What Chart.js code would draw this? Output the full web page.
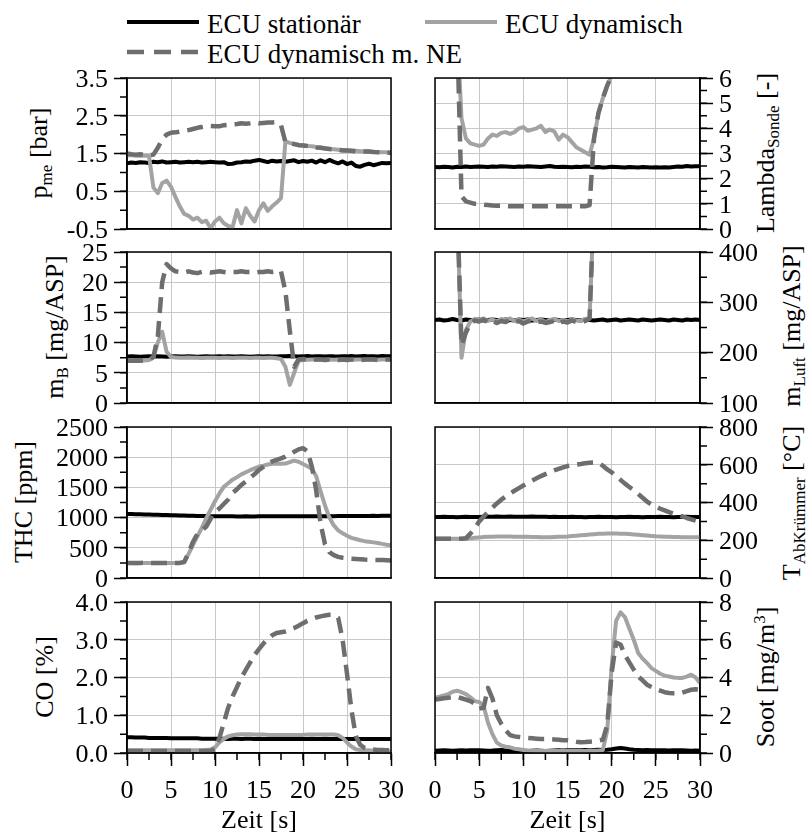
<!DOCTYPE html>
<html lang="de">
<head>
<meta charset="utf-8">
<title>ECU Vergleich</title>
<script src="https://cdn.jsdelivr.net/npm/chart.js@4.4.1/dist/chart.umd.min.js"></script>
<style>
  html, body { margin: 0; padding: 0; background: #fff; font-family: "Liberation Serif", serif; }
  #figure {
    position: relative; width: 806px; height: 837px; overflow: hidden;
    font-family: "Liberation Serif", serif; color: #000;
  }
  #figure canvas { position: absolute; }
  .ytitle {
    position: absolute; white-space: nowrap; font-family: "Liberation Serif", serif;
    font-size: 26px; line-height: 1;
    transform: translate(-50%, -50%) rotate(-90deg);
  }
  .ytitle sub { font-size: 17px; line-height: 0; vertical-align: -5px; }
  .ytitle sup { font-size: 17px; line-height: 0; vertical-align: 9px; }
  .legend-sample { position: absolute; }
  .legend-text {
    position: absolute; white-space: nowrap; font-family: "Liberation Serif", serif;
    font-size: 27px; line-height: 1;
  }
</style>
</head>
<body>
<div id="figure">
  <svg class="legend-sample" style="left:127px;top:17px" width="72" height="10"><line x1="0" y1="5" x2="72" y2="5" stroke="#000000" stroke-width="4"/></svg>
  <span class="legend-text" style="left:207px;top:11px">ECU stationär</span>
  <svg class="legend-sample" style="left:425px;top:17px" width="72" height="10"><line x1="0" y1="5" x2="72" y2="5" stroke="#a3a3a3" stroke-width="4"/></svg>
  <span class="legend-text" style="left:505px;top:11px">ECU dynamisch</span>
  <svg class="legend-sample" style="left:127px;top:47px" width="72" height="10"><line x1="0" y1="5" x2="72" y2="5" stroke="#6e6e6e" stroke-width="4.5" stroke-dasharray="17 10"/></svg>
  <span class="legend-text" style="left:207px;top:41px">ECU dynamisch m. NE</span>

  <div class="ytitle" style="left:39px;top:153px">p<sub>me</sub> [bar]</div>
  <div class="ytitle" style="left:55px;top:327px">m<sub>B</sub> [mg/ASP]</div>
  <div class="ytitle" style="left:24px;top:502px">THC [ppm]</div>
  <div class="ytitle" style="left:45px;top:677px">CO [%]</div>
  <div class="ytitle" style="left:766px;top:153px">Lambda<sub>Sonde</sub> [-]</div>
  <div class="ytitle" style="left:792px;top:326px">m<sub>Luft</sub> [mg/ASP]</div>
  <div class="ytitle" style="left:792px;top:503px">T<sub>AbKrümmer</sub> [°C]</div>
  <div class="ytitle" style="left:766px;top:677px">Soot [mg/m<sup>3</sup>]</div>
</div>

<script>
// Zeitachse [s]
const zeit = [0,0.5,1,1.5,2,2.5,3,3.5,4,4.5,5,5.5,6,6.5,7,7.5,8,8.5,9,9.5,
  10,10.5,11,11.5,12,12.5,13,13.5,14,14.5,15,15.5,16,16.5,17,17.5,18,18.5,19,19.5,
  20,20.5,21,21.5,22,22.5,23,23.5,24,24.5,25,25.5,26,26.5,27,27.5,28,28.5,29,29.5,30];

// p_me [bar]
const pmeStat = [1.24,1.26,1.25,1.27,1.26,1.25,1.28,1.27,1.29,1.26,
  1.27,1.28,1.26,1.27,1.28,1.27,1.28,1.26,1.27,1.28,
  1.27,1.26,1.27,1.22,1.23,1.26,1.27,1.29,1.28,1.31,
  1.33,1.30,1.27,1.31,1.29,1.30,1.28,1.30,1.32,1.27,
  1.30,1.28,1.31,1.26,1.32,1.27,1.33,1.28,1.24,1.29,
  1.22,1.26,1.17,1.15,1.20,1.23,1.19,1.22,1.25,1.24,
  1.25];
const pmeDyn = [1.45,1.46,1.44,1.45,1.44,1.44,0.60,0.45,0.72,0.78,
  0.62,0.35,0.10,-0.10,-0.15,-0.25,-0.20,-0.32,-0.28,-0.48,
  -0.30,-0.20,-0.35,-0.42,-0.45,0.00,-0.35,0.05,-0.15,-0.30,
  0.00,0.18,-0.02,0.10,0.20,0.32,1.82,1.78,1.75,1.73,
  1.72,1.70,1.69,1.67,1.66,1.64,1.62,1.61,1.60,1.59,
  1.58,1.57,1.57,1.56,1.56,1.55,1.54,1.54,1.53,1.53,
  1.52];
const pmeNE = [1.50,1.48,1.47,1.48,1.46,1.45,1.47,1.65,1.88,2.00,
  2.05,2.06,2.08,2.10,2.12,2.15,2.18,2.20,2.22,2.23,
  2.22,2.22,2.25,2.26,2.27,2.28,2.30,2.29,2.30,2.32,
  2.30,2.31,2.32,2.32,2.33,2.25,1.80,1.77,1.75,1.72,
  1.71,1.70,1.68,1.66,1.65,1.63,1.62,1.61,1.60,1.58,
  1.58,1.57,1.56,1.56,1.55,1.55,1.54,1.53,1.53,1.52,
  1.52];

// Lambda Sonde [-] (Werte > 6 liegen oberhalb der Achse)
const lamStat = [2.46,2.45,2.47,2.46,2.44,2.47,2.46,2.48,2.46,2.47,
  2.48,2.47,2.46,2.48,2.47,2.49,2.48,2.47,2.46,2.48,
  2.47,2.49,2.48,2.47,2.46,2.48,2.50,2.47,2.46,2.47,
  2.46,2.45,2.47,2.46,2.48,2.47,2.45,2.46,2.44,2.45,
  2.47,2.46,2.45,2.44,2.46,2.45,2.44,2.46,2.45,2.44,
  2.45,2.44,2.45,2.44,2.46,2.48,2.47,2.50,2.48,2.49,
  2.49];
const lamDyn = [8,8,8,8,8,8,4.40,3.60,3.40,3.35,
  3.30,3.35,3.60,3.75,3.70,3.82,3.85,3.78,3.85,4.00,
  4.05,3.90,3.95,4.00,4.10,3.85,3.95,3.88,3.55,3.75,
  3.65,3.45,3.25,3.15,3.05,2.95,3.60,4.60,5.20,5.70,
  6.10,8,8,8,8,8,8,8,8,8,
  8,8,8,8,8,8,8,8,8,8,
  8];
const lamNE = [8,8,8,8,8,8,1.30,1.10,1.05,1.00,
  1.00,0.97,0.95,0.93,0.92,0.92,0.91,0.90,0.90,0.90,
  0.90,0.90,0.90,0.90,0.90,0.90,0.90,0.90,0.90,0.90,
  0.90,0.90,0.90,0.90,0.90,0.95,3.60,4.60,5.20,5.70,
  6.10,8,8,8,8,8,8,8,8,8,
  8,8,8,8,8,8,8,8,8,8,
  8];

// m_B [mg/ASP]
const mbStat = [7.70,7.75,7.70,7.65,7.70,7.75,7.70,7.75,7.70,7.65,
  7.70,7.72,7.68,7.70,7.74,7.70,7.66,7.70,7.72,7.70,
  7.68,7.72,7.70,7.74,7.70,7.68,7.72,7.70,7.66,7.70,
  7.72,7.70,7.74,7.70,7.68,7.72,7.75,7.80,7.75,7.70,
  7.72,7.78,7.70,7.75,7.72,7.70,7.76,7.72,7.70,7.75,
  7.72,7.78,7.70,7.75,7.80,7.72,7.76,7.70,7.78,7.74,
  7.75];
const mbDyn = [7.00,7.00,7.00,7.05,7.05,7.10,7.60,10.0,11.8,8.50,
  7.60,7.55,7.50,7.50,7.55,7.50,7.50,7.45,7.50,7.50,
  7.50,7.45,7.50,7.50,7.45,7.50,7.50,7.50,7.45,7.50,
  7.50,7.45,7.50,7.50,7.40,7.30,6.00,3.00,5.00,7.00,
  7.10,7.15,7.20,7.20,7.15,7.20,7.20,7.15,7.20,7.20,
  7.20,7.15,7.20,7.20,7.15,7.20,7.20,7.15,7.20,7.20,
  7.20];
const mbNE = [7.00,7.00,7.05,7.00,7.05,7.10,7.60,11.0,20.0,23.0,
  22.3,21.8,21.7,21.6,21.8,21.6,21.5,21.7,21.7,21.6,
  21.7,21.8,21.7,21.6,21.7,21.7,21.8,21.7,21.7,21.6,
  21.7,21.7,21.8,21.7,21.8,21.8,18.5,12.0,6.00,7.20,
  7.30,7.20,7.10,7.20,7.20,7.10,7.20,7.20,7.10,7.20,
  7.10,7.20,7.20,7.10,7.20,7.20,7.20,7.10,7.20,7.20,
  7.20];

// m_Luft [mg/ASP] (Werte > 400 liegen oberhalb der Achse)
const mlStat = [265,266,264,265,267,265,264,266,265,265,
  266,264,265,266,265,264,266,265,264,266,
  265,266,264,265,266,265,264,266,265,264,
  265,266,265,264,266,265,264,265,266,264,
  265,266,264,265,266,265,264,266,265,264,
  265,266,265,264,266,265,264,266,265,266,
  265];
const mlDyn = [500,500,500,500,500,500,190,245,262,267,
  265,268,263,266,262,267,264,268,263,266,
  262,265,268,263,266,261,265,267,263,265,
  262,266,264,263,267,268,500,500,500,500,
  500,500,500,500,500,500,500,500,500,500,
  500,500,500,500,500,500,500,500,500,500,
  500];
const mlNE = [500,500,500,500,500,500,215,240,258,264,
  262,266,260,264,259,263,261,265,260,263,
  258,262,264,260,262,259,261,263,258,262,
  260,264,261,260,263,268,500,500,500,500,
  500,500,500,500,500,500,500,500,500,500,
  500,500,500,500,500,500,500,500,500,500,
  500];

// THC [ppm]
const thcStat = [1060,1058,1056,1054,1052,1050,1048,1046,1044,1042,
  1040,1038,1036,1034,1032,1030,1028,1026,1025,1024,
  1023,1022,1022,1021,1021,1020,1020,1021,1020,1020,
  1021,1021,1022,1021,1022,1022,1021,1022,1023,1022,
  1023,1022,1023,1024,1023,1024,1025,1024,1025,1026,
  1025,1026,1027,1026,1027,1028,1029,1028,1030,1031,
  1032];
const thcDyn = [250,250,245,250,250,248,250,250,248,250,
  250,250,250,265,400,550,690,830,990,1130,
  1270,1400,1510,1570,1628,1670,1715,1750,1785,1815,
  1845,1860,1880,1893,1895,1893,1895,1920,1943,1925,
  1887,1850,1810,1683,1435,1200,1000,870,790,740,
  700,665,645,625,610,600,590,580,565,552,
  541];
const thcNE = [250,250,248,250,252,250,248,250,250,248,
  250,250,250,265,420,600,730,790,850,980,
  1090,1150,1225,1300,1407,1470,1540,1600,1660,1720,
  1790,1840,1890,1930,1955,1980,2010,2050,2090,2130,
  2150,2100,1850,1450,900,560,430,380,350,335,
  325,320,315,310,305,302,300,298,296,295,
  290];

// T AbKrümmer [°C]
const tkStat = [323,323,324,323,323,322,323,324,323,323,
  323,324,325,324,326,325,324,326,325,324,
  325,324,326,324,325,324,323,324,323,323,
  323,324,323,323,322,323,323,324,323,323,
  323,322,323,323,324,323,323,322,323,323,
  323,324,323,323,322,323,323,324,323,323,
  323];
const tkDyn = [208,208,208,208,208,208,208,208,210,213,
  215,217,218,219,220,220,220,220,219,219,
  218,218,217,217,216,216,216,217,218,219,
  220,222,224,226,228,230,232,234,235,236,
  236,236,235,234,233,231,229,227,225,223,
  221,220,219,218,217,217,216,216,216,216,
  216];
const tkNE = [208,208,208,208,208,208,208,210,235,262,
  300,325,350,372,395,415,432,448,462,476,
  490,503,516,528,540,550,560,570,578,586,
  593,597,601,604,608,611,612,609,595,575,
  560,540,520,500,482,464,445,425,405,390,
  378,367,358,349,341,334,326,318,311,304,
  297];

// CO [%]
const coStat = [0.42,0.42,0.41,0.41,0.41,0.40,0.40,0.40,0.40,0.40,
  0.39,0.39,0.39,0.39,0.39,0.39,0.39,0.38,0.38,0.38,
  0.38,0.38,0.38,0.37,0.38,0.38,0.37,0.38,0.38,0.37,
  0.38,0.37,0.37,0.38,0.37,0.37,0.38,0.37,0.37,0.38,
  0.37,0.37,0.38,0.37,0.37,0.38,0.37,0.37,0.37,0.37,
  0.37,0.37,0.37,0.37,0.37,0.37,0.37,0.37,0.37,0.37,
  0.37];
const coDyn = [0.07,0.07,0.07,0.07,0.07,0.07,0.07,0.07,0.07,0.07,
  0.07,0.07,0.07,0.07,0.07,0.07,0.07,0.07,0.08,0.09,
  0.15,0.28,0.38,0.44,0.47,0.49,0.50,0.50,0.50,0.49,
  0.49,0.49,0.48,0.48,0.48,0.48,0.48,0.48,0.48,0.48,
  0.48,0.49,0.49,0.49,0.49,0.49,0.49,0.49,0.47,0.40,
  0.28,0.17,0.10,0.08,0.07,0.07,0.06,0.06,0.05,0.05,
  0.04];
const coNE = [0.05,0.05,0.05,0.05,0.05,0.05,0.05,0.05,0.05,0.05,
  0.05,0.05,0.05,0.05,0.05,0.05,0.05,0.05,0.05,0.06,
  0.10,0.40,0.80,1.20,1.50,1.75,2.00,2.20,2.40,2.60,
  2.75,2.90,3.02,3.12,3.18,3.20,3.22,3.26,3.31,3.37,
  3.44,3.50,3.55,3.59,3.62,3.64,3.66,3.66,3.58,3.00,
  2.10,1.15,0.45,0.22,0.13,0.10,0.09,0.08,0.08,0.07,
  0.07];

// Soot [mg/m3]
const sootStat = [0.12,0.13,0.14,0.13,0.12,0.13,0.14,0.13,0.14,0.15,
  0.14,0.13,0.12,0.13,0.15,0.16,0.14,0.13,0.12,0.13,
  0.12,0.11,0.12,0.13,0.12,0.11,0.12,0.13,0.14,0.13,
  0.14,0.15,0.14,0.15,0.16,0.15,0.16,0.17,0.16,0.17,
  0.20,0.24,0.27,0.24,0.20,0.17,0.16,0.15,0.16,0.15,
  0.14,0.15,0.14,0.13,0.14,0.15,0.14,0.13,0.12,0.13,
  0.12];
const sootDyn = [2.92,2.98,3.05,3.12,3.25,3.30,3.22,3.12,2.95,2.75,
  2.70,2.50,1.60,1.00,0.55,0.40,0.33,0.30,0.23,0.20,
  0.16,0.13,0.12,0.11,0.10,0.10,0.10,0.10,0.10,0.10,
  0.10,0.10,0.10,0.11,0.11,0.12,0.12,0.13,0.15,1.20,
  4.60,7.00,7.45,7.20,6.60,6.00,5.30,5.00,4.77,4.50,
  4.35,4.20,4.10,4.05,4.00,3.98,3.98,4.05,4.15,4.00,
  3.71];
const sootNE = [2.83,2.86,2.90,2.93,2.96,2.97,2.90,2.83,2.75,2.62,
  2.35,2.40,3.45,2.90,2.00,1.55,1.20,0.95,0.88,0.85,
  0.82,0.80,0.78,0.76,0.74,0.74,0.73,0.72,0.70,0.68,
  0.67,0.64,0.60,0.57,0.58,0.60,0.62,0.66,0.70,1.50,
  4.24,5.85,5.75,5.20,4.80,4.42,4.05,3.85,3.62,3.50,
  3.38,3.30,3.22,3.18,3.16,3.15,3.20,3.28,3.35,3.38,
  3.36];

// Styles
const FONT = { family: 'Liberation Serif', size: 26 };
const COL_STAT = '#000000';
const COL_DYN = '#a3a3a3';
const COL_NE = '#6e6e6e';
const GRID = '#c8c8c8';

// Layout of the 4x2 panel grid
const ROW_TOP = [78, 252, 427, 602];
const PLOT_H = 151;
const PAD = 14;
const PAGE_H = 837;
const COLS = {
  left:  { canvasLeft: 0,   canvasWidth: 410, plotLeft: 127, plotRight: 391 },
  right: { canvasLeft: 400, canvasWidth: 406, plotLeft: 435, plotRight: 700 }
};
const MAJOR_LEN = 13;
const MINOR_LEN = 7;

Chart.defaults.font.family = 'Liberation Serif';

const panels = [
  { side: 'left',  row: 0, yMin: -0.5, yMax: 3.5, yStep: 1,   yMinor: 0.5, dec: 1, stat: pmeStat,  dyn: pmeDyn,  ne: pmeNE },
  { side: 'right', row: 0, yMin: 0,    yMax: 6,   yStep: 1,   yMinor: 0.5, dec: 0, stat: lamStat,  dyn: lamDyn,  ne: lamNE },
  { side: 'left',  row: 1, yMin: 0,    yMax: 25,  yStep: 5,   yMinor: 2.5, dec: 0, stat: mbStat,   dyn: mbDyn,   ne: mbNE },
  { side: 'right', row: 1, yMin: 100,  yMax: 400, yStep: 100, yMinor: 50,  dec: 0, stat: mlStat,   dyn: mlDyn,   ne: mlNE },
  { side: 'left',  row: 2, yMin: 0,    yMax: 2500, yStep: 500, yMinor: 250, dec: 0, stat: thcStat, dyn: thcDyn,  ne: thcNE },
  { side: 'right', row: 2, yMin: 0,    yMax: 800, yStep: 200, yMinor: 100, dec: 0, stat: tkStat,   dyn: tkDyn,   ne: tkNE },
  { side: 'left',  row: 3, yMin: 0,    yMax: 4,   yStep: 1,   yMinor: 0.5, dec: 1, stat: coStat,   dyn: coDyn,   ne: coNE },
  { side: 'right', row: 3, yMin: 0,    yMax: 8,   yStep: 2,   yMinor: 1,   dec: 0, stat: sootStat, dyn: sootDyn, ne: sootNE }
];

// Frame round the plot area plus the short minor tick marks
const frameAndMinor = {
  id: 'frameAndMinor',
  afterDraw(chart, args, opts) {
    const { ctx, chartArea: a } = chart;
    const ys = chart.scales.y, xs = chart.scales.x;
    ctx.save();
    ctx.strokeStyle = '#000';
    ctx.lineWidth = 1.5;
    ctx.strokeRect(a.left, a.top, a.right - a.left, a.bottom - a.top);
    ctx.beginPath();
    for (let v = ys.min; v <= ys.max + 1e-9; v += opts.yMinor) {
      const py = ys.getPixelForValue(v);
      if (opts.side === 'left') {
        ctx.moveTo(a.left - MINOR_LEN, py); ctx.lineTo(a.left, py);
      } else {
        ctx.moveTo(a.right, py); ctx.lineTo(a.right + MINOR_LEN, py);
      }
    }
    if (opts.xMinor) {
      for (let v = xs.min; v <= xs.max + 1e-9; v += opts.xMinor) {
        const px = xs.getPixelForValue(v);
        ctx.moveTo(px, a.bottom); ctx.lineTo(px, a.bottom + MINOR_LEN);
      }
    }
    ctx.stroke();
    ctx.restore();
  }
};

function makePanel(p) {
  const col = COLS[p.side];
  const bottomRow = p.row === 3;
  const top = ROW_TOP[p.row] - PAD;
  const height = bottomRow ? PAGE_H - top : PAD + PLOT_H + PAD;

  const canvas = document.createElement('canvas');
  canvas.width = col.canvasWidth;
  canvas.height = height;
  canvas.style.left = col.canvasLeft + 'px';
  canvas.style.top = top + 'px';
  document.getElementById('figure').appendChild(canvas);

  const yAxisWidth = p.side === 'left'
    ? col.plotLeft - col.canvasLeft
    : col.canvasLeft + col.canvasWidth - col.plotRight;
  const xAxisHeight = bottomRow ? height - PAD - PLOT_H : 0;

  // first dataset is drawn on top
  const series = [
    { label: 'ECU dynamisch m. NE', values: p.ne,   color: COL_NE,   dash: [16, 8], width: 4.5 },
    { label: 'ECU dynamisch',       values: p.dyn,  color: COL_DYN,  dash: [],      width: 4 },
    { label: 'ECU stationär',       values: p.stat, color: COL_STAT, dash: [],      width: 4 }
  ];

  new Chart(canvas, {
    type: 'line',
    data: {
      datasets: series.map(s => ({
        label: s.label,
        data: zeit.map((t, i) => ({ x: t, y: s.values[i] })),
        borderColor: s.color,
        borderWidth: s.width,
        borderDash: s.dash,
        borderJoinStyle: 'round',
        pointRadius: 0,
        tension: 0,
        fill: false
      }))
    },
    options: {
      responsive: false,
      animation: false,
      devicePixelRatio: 1,
      layout: {
        padding: {
          left: p.side === 'right' ? col.plotLeft - col.canvasLeft : 0,
          right: p.side === 'left' ? col.canvasLeft + col.canvasWidth - col.plotRight : 0,
          top: PAD,
          bottom: bottomRow ? 0 : PAD
        }
      },
      plugins: {
        legend: { display: false },
        tooltip: { enabled: false },
        frameAndMinor: { side: p.side, yMinor: p.yMinor, xMinor: bottomRow ? 2.5 : 0 }
      },
      scales: {
        x: {
          type: 'linear', min: 0, max: 30,
          ticks: { display: bottomRow, stepSize: 5, autoSkip: false, maxRotation: 0, padding: 10, font: FONT, color: '#000' },
          grid: { color: GRID, lineWidth: 1, drawTicks: bottomRow, tickLength: MAJOR_LEN, tickColor: '#000', tickWidth: 1.5 },
          border: { display: true, color: '#000', width: 1.5 },
          title: { display: bottomRow, text: 'Zeit [s]', font: FONT, color: '#000', padding: 0 },
          afterFit(s) {
            s.height = xAxisHeight;
            s.paddingLeft = s.paddingRight = s.paddingTop = s.paddingBottom = 0;
          }
        },
        y: {
          position: p.side, min: p.yMin, max: p.yMax,
          ticks: {
            stepSize: p.yStep, autoSkip: false, padding: 6, labelOffset: 2,
            font: FONT, color: '#000',
            callback: v => v.toFixed(p.dec)
          },
          grid: { color: GRID, lineWidth: 1, tickLength: MAJOR_LEN, tickColor: '#000', tickWidth: 1.5 },
          border: { display: true, color: '#000', width: 1.5 },
          afterFit(s) {
            s.width = yAxisWidth;
            s.paddingLeft = s.paddingRight = s.paddingTop = s.paddingBottom = 0;
          }
        }
      }
    },
    plugins: [frameAndMinor]
  });
}

panels.forEach(makePanel);
</script>
</body>
</html>
